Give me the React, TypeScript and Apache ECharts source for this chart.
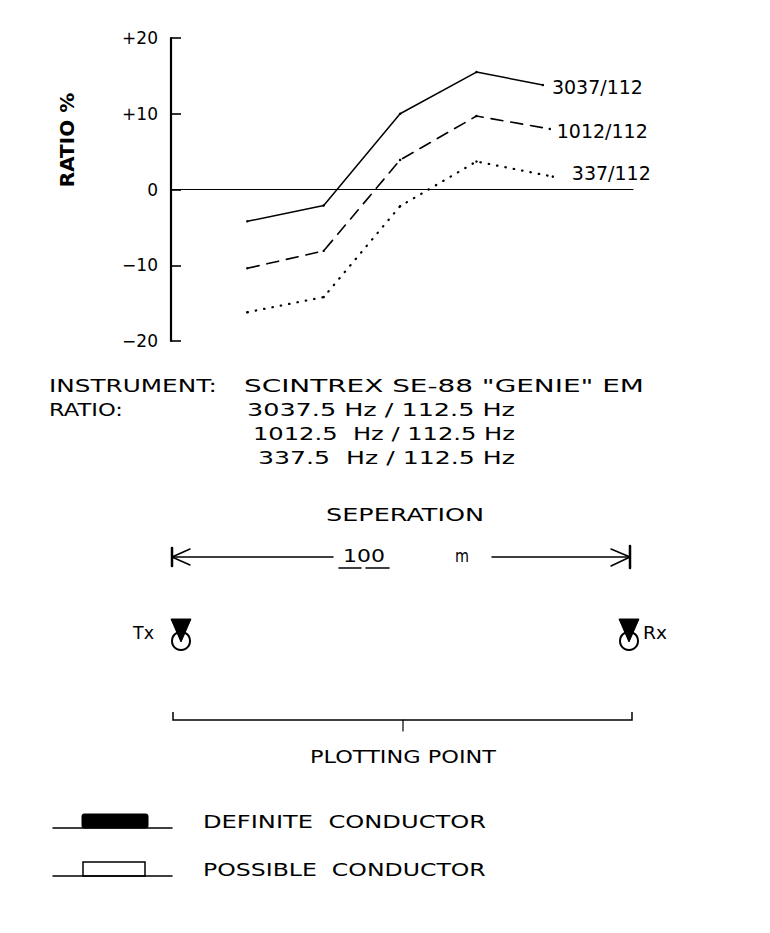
import React, { useEffect, useRef } from "react";
import * as echarts from "echarts";

const FONT = '"DejaVu Sans", "Liberation Sans", sans-serif';

// ---- data ----
const yTickValues = [-20, -10, 0, 10, 20];
const yTickLabels = ["−20", "−10", "0", "+10", "+20"];

const seriesNames = ["3037/112", "1012/112", "337/112"];
const station3037 = [0, 1, 2, 3, 3.87];
const ratio3037 = [-4.2, -2.1, 10.0, 15.5, 13.8];
const station1012 = [0, 1, 2, 3, 3.96];
const ratio1012 = [-10.4, -8.1, 3.9, 9.7, 8.0];
const station337 = [0, 1, 2, 3, 4.0];
const ratio337 = [-16.2, -14.2, -2.2, 3.7, 1.7];

const instrumentLabel = "INSTRUMENT:";
const instrumentName = 'SCINTREX SE-88 "GENIE" EM';
const ratioLabel = "RATIO:";
const ratioLines = ["3037.5 Hz / 112.5 Hz", "1012.5  Hz / 112.5 Hz", "337.5  Hz / 112.5 Hz"];
const separationTitle = "SEPERATION";
const separationValue = "100";
const separationUnit = "m";
const legendTexts = ["DEFINITE  CONDUCTOR", "POSSIBLE  CONDUCTOR"];

let measureCtx: CanvasRenderingContext2D | null = null;
function textWidth(text: string, size: number, weight = "normal") {
  if (!measureCtx) measureCtx = document.createElement("canvas").getContext("2d");
  if (!measureCtx) return text.length * size * 0.6;
  measureCtx.font = `${weight} ${size}px "DejaVu Sans"`;
  return measureCtx.measureText(text).width;
}

function txt(
  text: string,
  x: number,
  y: number,
  width: number,
  size: number,
  align: "left" | "center" | "right" = "left",
  weight = "normal"
) {
  const scaleX = width > 0 ? width / textWidth(text, size, weight) : 1;
  return {
    type: "text",
    x,
    y,
    scaleX,
    silent: true,
    style: {
      text,
      fontSize: size,
      fontFamily: FONT,
      fontWeight: weight,
      fill: "#000",
      align,
      verticalAlign: "middle",
      textAlign: align,
      textVerticalAlign: "middle",
    },
  };
}

function line(x1: number, y1: number, x2: number, y2: number, w = 1.5) {
  return {
    type: "line",
    silent: true,
    shape: { x1, y1, x2, y2 },
    style: { stroke: "#000", lineWidth: w, lineCap: "round" },
  };
}

function station(cx: number) {
  return [
    {
      type: "circle",
      silent: true,
      shape: { cx, cy: 641, r: 9 },
      style: { fill: "#fff", stroke: "#000", lineWidth: 2 },
    },
    {
      type: "polygon",
      silent: true,
      shape: { points: [[cx - 10, 619], [cx + 10, 619], [cx, 642]] },
      style: { fill: "#000", stroke: "#000", lineWidth: 1 },
    },
  ];
}

export default function App() {
  const ref = useRef<HTMLDivElement>(null);

  useEffect(() => {
    if (!ref.current) return;
    const chart = echarts.init(ref.current, null, { renderer: "svg" });

    const mk = (name: string, xs: number[], ys: number[], type: any, width: number, dist: number, off: number[]) => ({
      name,
      type: "line",
      data: xs.map((x, i) => [x, ys[i]]),
      showSymbol: true,
      symbol: "circle",
      symbolSize: 2.5,
      itemStyle: { color: "#000" },
      lineStyle: { color: "#000", width, type, cap: "round" },
      endLabel: {
        show: true,
        formatter: name,
        color: "#000",
        fontSize: 19,
        fontFamily: FONT,
        distance: dist,
        offset: off,
      },
      silent: true,
      z: 3,
    });

    const graphics: any[] = [
      {
        type: "text",
        x: 67,
        y: 140,
        rotation: Math.PI / 2,
        silent: true,
        style: {
          text: "RATIO %",
          fontSize: 20,
          fontWeight: "bold",
          fontFamily: FONT,
          fill: "#000",
          align: "center",
          verticalAlign: "middle",
          textAlign: "center",
          textVerticalAlign: "middle",
        },
      },
      txt(instrumentLabel, 49, 386, 168, 18),
      txt(instrumentName, 244, 386, 400, 18),
      txt(ratioLabel, 49, 410, 74, 18),
      txt(ratioLines[0], 247, 410, 268, 18),
      txt(ratioLines[1], 253, 434, 262, 18),
      txt(ratioLines[2], 258, 458, 257, 18),
      txt(separationTitle, 405, 515, 158, 18, "center"),
      // separation arrow
      line(172, 557, 333, 557),
      line(492, 557, 630, 557),
      line(172, 548, 172, 566, 2.5),
      line(172, 557, 190, 549),
      line(172, 557, 190, 565),
      line(630, 546, 630, 568, 2.5),
      line(630, 557, 611, 549),
      line(630, 557, 611, 566),
      txt(separationValue, 364, 556, 42, 18, "center"),
      line(339, 568, 361, 568),
      line(366, 568, 389, 568),
      txt(separationUnit, 462, 556, 14, 18, "center"),
      // Tx / Rx
      ...station(181),
      ...station(629),
      txt("Tx", 133, 633, 21, 17),
      txt("Rx", 643, 633, 24, 17),
      // plotting point bracket
      {
        type: "polyline",
        silent: true,
        shape: { points: [[173, 712], [173, 720], [632, 720], [632, 712]] },
        style: { stroke: "#000", lineWidth: 1.5, fill: null },
      },
      line(403, 720, 403, 731, 1.2),
      txt("PLOTTING POINT", 403, 757, 186, 18, "center"),
      // legend
      line(53, 828, 172, 828),
      {
        type: "rect",
        silent: true,
        shape: { x: 82, y: 814, width: 66, height: 14, r: 2 },
        style: { fill: "#000", stroke: "#000", lineWidth: 1 },
      },
      txt(legendTexts[0], 203, 822, 283, 18),
      line(53, 876, 172, 876),
      {
        type: "rect",
        silent: true,
        shape: { x: 83, y: 862, width: 62, height: 14 },
        style: { fill: "none", stroke: "#000", lineWidth: 1.5 },
      },
      txt(legendTexts[1], 203, 870, 283, 18),
    ];

    chart.setOption({
      animation: false,
      backgroundColor: "#fff",
      grid: { left: 171, right: 137, top: 38, bottom: 592, containLabel: false },
      xAxis: {
        type: "value",
        min: -1,
        max: 5.05,
        axisLine: { show: true, onZero: true, lineStyle: { color: "#000", width: 1.2 } },
        axisTick: { show: false },
        axisLabel: { show: false },
        splitLine: { show: false },
      },
      yAxis: {
        type: "value",
        min: -20,
        max: 20,
        interval: 10,
        axisLine: { show: true, onZero: false, lineStyle: { color: "#000", width: 2.2 } },
        axisTick: { show: true, inside: true, length: 10, lineStyle: { color: "#000", width: 1.6 } },
        axisLabel: {
          show: true,
          margin: 13,
          color: "#000",
          fontSize: 17,
          fontFamily: FONT,
          formatter: (v: number) => {
            const i = yTickValues.indexOf(v);
            return i >= 0 ? yTickLabels[i] : "";
          },
        },
        splitLine: { show: false },
      },
      series: [
        mk(seriesNames[0], station3037, ratio3037, "solid", 1.5, 9, [0, 2]),
        mk(seriesNames[1], station1012, ratio1012, [12, 8], 1.6, 7, [0, 2]),
        mk(seriesNames[2], station337, ratio337, [0.5, 8], 2.2, 19, [0, -4]),
      ],
      graphic: { elements: graphics },
    } as any);

    return () => chart.dispose();
  }, []);

  return (
    <div
      ref={ref}
      style={{ position: "absolute", left: 0, top: 0, width: 770, height: 933, background: "#fff" }}
    />
  );
}
